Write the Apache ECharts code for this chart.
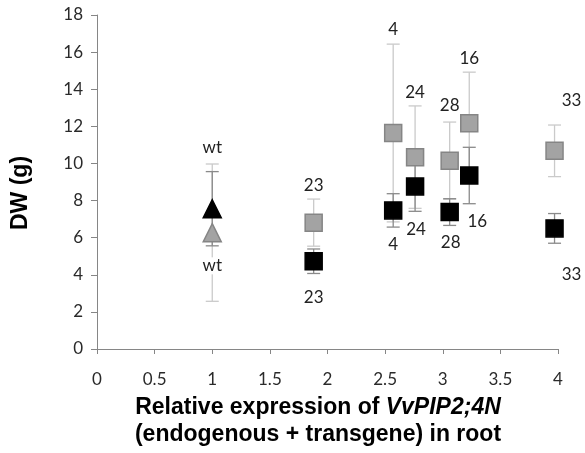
<!DOCTYPE html>
<html>
<head>
<meta charset="utf-8">
<script src="https://cdn.jsdelivr.net/npm/echarts@6/dist/echarts.min.js"></script>
<style>
    html, body { margin: 0; padding: 0; background: #fff; }
    #chart { width: 585px; height: 453px; }
</style>
</head>
<body>
<div id="chart"></div>
<script>
    // relative expression (x) of each line, wt first
    const expr = [1, 1.88, 2.57, 2.76, 3.06, 3.23, 3.97];
    const lineNames = ['wt', '23', '4', '24', '28', '16', '33'];
    // black markers (mean, error)
    const blackDW = [7.56, 4.73, 7.47, 8.76, 7.38, 9.35, 6.50];
    const blackErr = [2.0, 0.66, 0.9, 1.34, 0.72, 1.52, 0.8];
    // grey markers (mean, error)
    const greyDW = [6.27, 6.81, 11.64, 10.34, 10.15, 12.17, 10.68];
    const greyErr = [3.7, 1.27, 4.79, 2.76, 2.08, 2.75, 1.39];

    // pixel nudges for the line labels (above grey bar / below black bar)
    const topShift = [[0, -16], [0, -14], [0, -15], [0, -13], [0, -17], [0, -14], [17, -25]];
    const bottomShift = [[0, 20], [0, 24], [0, 17], [1, 18], [1, 17], [8, 18], [17, 31]];

    const tickFont = 'Lato, "Open Sans", sans-serif';
    const titleFont = '"Liberation Sans", Arial, sans-serif';

    function errBars(color) {
        return function (params, api) {
            let x = api.value(0), y = api.value(1), e = api.value(2);
            let hi = api.coord([x, y + e]);
            let lo = api.coord([x, y - e]);
            let w = 6.5;
            let st = {stroke: color, lineWidth: 1.3};
            return {
                type: 'group',
                children: [
                    {type: 'line', shape: {x1: hi[0], y1: hi[1], x2: lo[0], y2: lo[1]}, style: st},
                    {type: 'line', shape: {x1: hi[0] - w, y1: hi[1], x2: hi[0] + w, y2: hi[1]}, style: st},
                    {type: 'line', shape: {x1: lo[0] - w, y1: lo[1], x2: lo[0] + w, y2: lo[1]}, style: st}
                ]
            };
        };
    }

    function markerData(vals, fill, border) {
        return expr.map((x, i) => ({
            value: [x, vals[i]],
            symbol: i === 0 ? 'triangle' : 'rect',
            symbolSize: i === 0 ? 18 : 17,
            itemStyle: {color: fill, borderColor: border, borderWidth: 1.5, opacity: 1}
        }));
    }

    let chart = echarts.init(document.getElementById('chart'));
    let option = {
        animation: false,
        backgroundColor: '#fff',
        grid: {left: 97, right: 27, top: 15, bottom: 104},
        xAxis: {
            type: 'value', min: 0, max: 4, interval: 0.5,
            splitLine: {show: false},
            axisLine: {lineStyle: {color: '#868686', width: 1}},
            axisTick: {show: true, length: 5, lineStyle: {color: '#868686'}},
            axisLabel: {color: '#2a2a2a', fontFamily: tickFont, fontSize: 17, margin: 22}
        },
        yAxis: {
            type: 'value', min: 0, max: 18, interval: 2,
            splitLine: {show: false},
            axisLine: {show: true, lineStyle: {color: '#868686', width: 1}},
            axisTick: {show: true, length: 6, lineStyle: {color: '#868686'}},
            axisLabel: {color: '#2a2a2a', fontFamily: tickFont, fontSize: 17, margin: 14}
        },
        graphic: [
            {
                type: 'text', x: 21, y: 193, rotation: Math.PI / 2,
                style: {
                    text: 'DW (g)', font: 'bold 23px ' + titleFont, fill: '#000',
                    align: 'center', verticalAlign: 'middle'
                }
            },
            {
                type: 'text', x: 318, y: 421,
                style: {
                    text: '{b|Relative expression of }{i|VvPIP2;4N}\n{b|(endogenous + transgene) in root}',
                    align: 'center', verticalAlign: 'middle',
                    rich: {
                        b: {font: 'bold 23px ' + titleFont, fill: '#000', lineHeight: 27},
                        i: {font: 'italic bold 23px ' + titleFont, fill: '#000', lineHeight: 27}
                    }
                }
            }
        ],
        series: [
            {
                type: 'custom', name: 'greyErr',
                renderItem: errBars('#cacaca'),
                encode: {x: 0, y: 1},
                data: expr.map((x, i) => [x, greyDW[i], greyErr[i]])
            },
            {
                type: 'custom', name: 'blackErr',
                renderItem: errBars('#8a8a8a'),
                encode: {x: 0, y: 1},
                data: expr.map((x, i) => [x, blackDW[i], blackErr[i]])
            },
            {
                type: 'scatter', name: 'grey',
                data: markerData(greyDW, '#a3a3a3', '#858585')
            },
            {
                type: 'scatter', name: 'black',
                data: markerData(blackDW, '#000', '#000')
            },
            {
                type: 'custom', name: 'labels',
                encode: {x: 0, y: 1},
                renderItem: function (params, api) {
                    let i = params.dataIndex;
                    let x = api.value(0);
                    let top = api.coord([x, api.value(1) + api.value(2)]);
                    let bot = api.coord([x, api.value(3) - api.value(4)]);
                    let st = {
                        text: lineNames[i], align: 'center', verticalAlign: 'middle',
                        font: '17px ' + tickFont, fill: '#222', backgroundColor: '#fff'
                    };
                    return {
                        type: 'group',
                        children: [
                            {type: 'text', x: top[0] + topShift[i][0], y: top[1] + topShift[i][1], style: st},
                            {type: 'text', x: bot[0] + bottomShift[i][0], y: bot[1] + bottomShift[i][1], style: st}
                        ]
                    };
                },
                data: expr.map((x, i) => [x, greyDW[i], greyErr[i], blackDW[i], blackErr[i]])
            }
        ]
    };
    chart.setOption(option);
</script>
</body>
</html>
